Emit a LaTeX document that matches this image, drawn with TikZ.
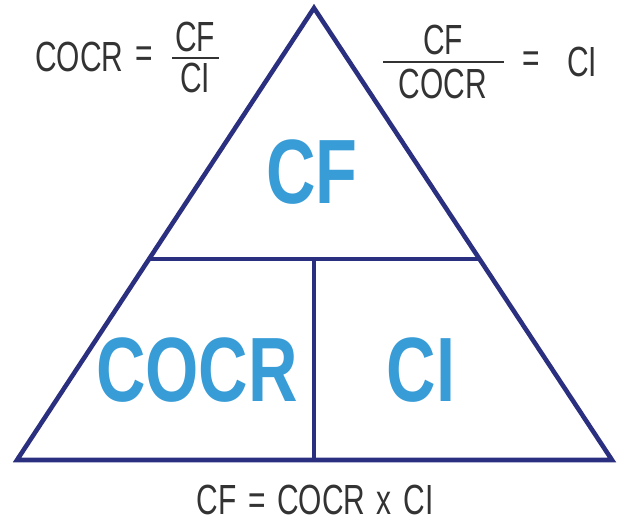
\documentclass[tikz,border=0pt]{standalone}
\usepackage{fontspec}
\setmainfont{Liberation Sans}[FakeStretch=0.75]
\newfontfamily\narrowfont{Liberation Sans}[FakeStretch=0.71, WordSpace=1.4]
\usetikzlibrary{positioning,calc}
\definecolor{navy}{HTML}{2B2F7F}
\definecolor{skyblue}{HTML}{389CD6}
\definecolor{inkgrey}{HTML}{333333}

\tikzset{
  edge/.style={draw=navy, line width=2.6pt, line join=miter},
  formula/.style={text=inkgrey, font=\narrowfont\fontsize{24}{27}\selectfont, inner sep=0pt},
  bigterm/.style={text=skyblue, font=\fontsize{52}{56}\selectfont\bfseries, inner sep=0pt},
  fracbar/.style={draw=inkgrey, line width=1.1pt}
}

\begin{document}
\begin{tikzpicture}[x=0.02cm, y=-0.02cm]
\useasboundingbox (0,0) rectangle (625,522);
% triangle and its inner split
\coordinate (apex) at (314,8);
\coordinate (baseL) at (17,460);
\coordinate (baseR) at (612,460);
\draw[edge] (apex) -- (baseL) -- (baseR) -- cycle;
\coordinate (midL) at ($(apex)!0.555!(baseL)$);
\coordinate (midR) at ($(apex)!0.555!(baseR)$);
\draw[edge] (midL) -- (midR);
\coordinate (splitTop) at (314,258);
\coordinate (splitBot) at (314,460);
\draw[edge] (splitTop) -- (splitBot);

% big terms
\node[bigterm] (cfBig) at (312,172) {CF};
\node[bigterm] (cocrBig) at (197,370) {COCR};
\node[bigterm] (ciBig) at (421,370) {CI};

% top left formula
\node[formula, anchor=west] (cocrL) at (35,57) {COCR};
\node[formula] (eqL) at (144,57) {=};
\node[formula] (cfL) at (195,37) {CF};
\node[formula] (ciL) at (195,78) {CI};
\draw[fracbar] (172,58) -- (219,58);

% top right formula
\node[formula] (cfR) at (443,40) {CF};
\node[formula] (cocrR) at (443,84) {COCR};
\draw[fracbar] (383,62) -- (504,62);
\node[formula] (eqR) at (531,62) {=};
\node[formula] (ciR) at (582,62) {CI};

% bottom formula
\node[formula] (product) at (315,500) {CF = COCR x CI};
\end{tikzpicture}
\end{document}
